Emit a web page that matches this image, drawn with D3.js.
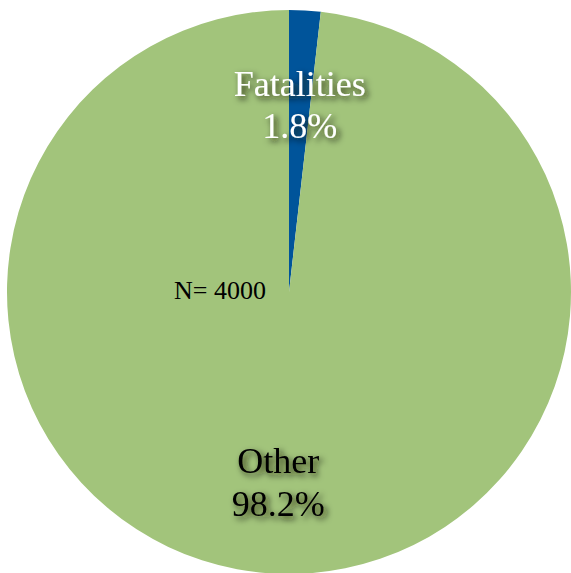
<!DOCTYPE html>
<html>
<head>
<meta charset="utf-8">
<script src="https://cdn.jsdelivr.net/npm/d3@7"></script>
<style>
  html, body { margin: 0; padding: 0; background: #ffffff; overflow: hidden; }
  svg { display: block; }
</style>
</head>
<body>
<svg id="chart" width="571" height="573"></svg>
<script>
// Share of incidents by outcome
const categories = ["Fatalities", "Other"];
const percents = [1.8, 98.2];
const sliceColors = ["#00549A", "#A2C47B"];
const labelColors = ["#ffffff", "#000000"];
const sampleNote = "N= 4000";

const width = 571, height = 573;
const cx = 289, cy = 292, radius = 282;

const svg = d3.select("#chart");

// Soft dark drop shadow behind the slice labels
const defs = svg.append("defs");
const shadow = defs.append("filter")
  .attr("id", "labelShadow")
  .attr("x", "-20%").attr("y", "-30%")
  .attr("width", "150%").attr("height", "170%");
shadow.append("feDropShadow")
  .attr("dx", 3).attr("dy", 3)
  .attr("stdDeviation", 3)
  .attr("flood-color", "#141408")
  .attr("flood-opacity", 0.9);

const data = categories.map((c, i) => ({ name: c, value: percents[i], color: sliceColors[i], text: labelColors[i] }));

const pie = d3.pie().value(d => d.value).sort(null);
const arc = d3.arc().innerRadius(0).outerRadius(radius);
const labelArc = d3.arc().innerRadius(radius * 0.67).outerRadius(radius * 0.67);

const g = svg.append("g").attr("transform", `translate(${cx},${cy})`);
const arcs = pie(data);

g.selectAll("path.slice")
  .data(arcs)
  .join("path")
  .attr("class", "slice")
  .attr("d", arc)
  .attr("fill", d => d.data.color);

const labels = g.selectAll("text.label")
  .data(arcs)
  .join("text")
  .attr("class", "label")
  .attr("transform", d => {
    const [x, y] = labelArc.centroid(d);
    return `translate(${x},${y})`;
  })
  .attr("text-anchor", "middle")
  .attr("font-family", "'Liberation Serif', 'Times New Roman', serif")
  .attr("font-size", 36)
  .attr("fill", d => d.data.text)
  .attr("filter", "url(#labelShadow)");

labels.append("tspan")
  .attr("x", 0).attr("y", -7.5)
  .text(d => d.data.name);
labels.append("tspan")
  .attr("x", 0).attr("y", 35)
  .text(d => d3.format(".1f")(d.data.value) + "%");

// Sample size note
svg.append("text")
  .attr("x", 174).attr("y", 299)
  .attr("font-family", "'Liberation Serif', 'Times New Roman', serif")
  .attr("font-size", 26)
  .attr("fill", "#000000")
  .text(sampleNote);
</script>
</body>
</html>
